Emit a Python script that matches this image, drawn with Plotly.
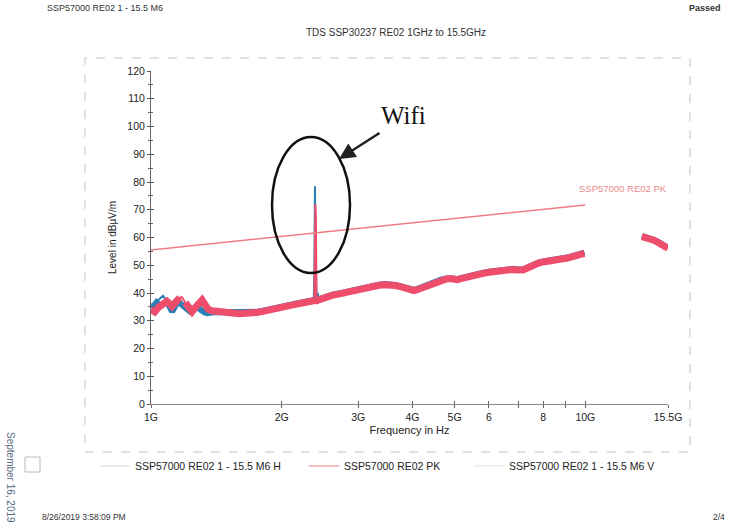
import math
import plotly.graph_objects as go

# ---------------- data ----------------
# Horizontal polarisation (blue), (frequency GHz, level dBuV/m)
H_POINTS = [
    (1.00, 34.8), (1.02, 35.8), (1.04, 37.5), (1.066, 39.0), (1.088, 37.0), (1.105, 34.5),
    (1.118, 33.3), (1.135, 35.0), (1.148, 36.9), (1.165, 36.3), (1.179, 35.5), (1.20, 34.3),
    (1.23, 33.3), (1.243, 33.6), (1.26, 34.3), (1.283, 35.0), (1.30, 34.0), (1.311, 33.4),
    (1.33, 33.0), (1.346, 32.7), (1.353, 32.8), (1.38, 33.0), (1.419, 33.1), (1.46, 33.1),
    (1.50, 33.0), (1.55, 33.0), (1.60, 32.7), (1.65, 32.9), (1.69, 32.8), (1.75, 33.2),
    (1.80, 33.5), (1.86, 34.1), (1.91, 34.4), (1.96, 34.8), (2.00, 35.2), (2.05, 35.4),
    (2.10, 35.8), (2.15, 36.1), (2.20, 36.4), (2.26, 36.6), (2.32, 37.2), (2.35, 37.0),
    (2.37, 37.4), (2.378, 50.0), (2.385, 78.5), (2.39, 60.0), (2.397, 40.0), (2.405, 37.0),
    (2.42, 37.6), (2.46, 38.0), (2.50, 38.5), (2.56, 39.0), (2.63, 39.5), (2.70, 39.8),
    (2.80, 40.4), (2.90, 40.8), (3.00, 41.2), (3.07, 41.8), (3.14, 42.4), (3.25, 42.8),
    (3.35, 43.0), (3.45, 43.2), (3.55, 43.2), (3.65, 42.9), (3.75, 42.5), (3.85, 41.8),
    (3.95, 41.3), (4.03, 41.1), (4.10, 41.4), (4.20, 42.1), (4.30, 42.7), (4.38, 43.2),
    (4.46, 43.7), (4.55, 44.3), (4.65, 44.8), (4.77, 45.2), (4.89, 45.4), (4.98, 45.2),
    (5.07, 45.0), (5.20, 45.5), (5.35, 46.1), (5.50, 46.6), (5.65, 47.0), (5.82, 47.3),
    (6.00, 47.7), (6.20, 48.1), (6.40, 48.5), (6.61, 48.7), (6.80, 48.7), (7.00, 48.5),
    (7.21, 48.6), (7.40, 49.4), (7.60, 50.4), (7.80, 51.0), (7.99, 51.4), (8.20, 51.6),
    (8.40, 51.9), (8.65, 52.1), (8.88, 52.3), (9.10, 52.8), (9.30, 53.2), (9.55, 53.7),
    (9.75, 54.1), (9.95, 54.5), (11.5, None),
    (13.5, 60.5), (13.8, 60.2), (14.1, 59.7), (14.33, 59.3), (14.6, 58.7), (14.8, 58.2),
    (15.0, 57.5), (15.25, 56.9), (15.5, 56.3),
]

# Vertical polarisation (red), (frequency GHz, level dBuV/m)
V_POINTS = [
    (1.00, 34.0), (1.02, 33.2), (1.04, 34.8), (1.066, 36.0), (1.088, 37.0), (1.105, 36.0),
    (1.118, 35.2), (1.135, 36.5), (1.148, 37.5), (1.165, 38.3), (1.179, 38.5), (1.20, 36.5),
    (1.23, 34.0), (1.243, 33.3), (1.26, 34.5), (1.283, 36.3), (1.30, 37.2), (1.311, 37.5),
    (1.33, 36.0), (1.346, 34.6), (1.353, 34.2), (1.38, 33.6), (1.419, 33.3), (1.46, 33.0),
    (1.50, 32.8), (1.55, 32.9), (1.60, 32.5), (1.65, 32.7), (1.69, 32.6), (1.75, 33.0),
    (1.80, 33.3), (1.86, 33.9), (1.91, 34.2), (1.96, 34.6), (2.00, 35.0), (2.05, 35.2),
    (2.10, 35.6), (2.15, 35.9), (2.20, 36.2), (2.26, 36.4), (2.32, 37.0), (2.35, 36.8),
    (2.37, 37.2), (2.378, 38.0), (2.385, 60.0), (2.39, 72.0), (2.397, 67.0), (2.405, 38.0),
    (2.42, 37.4), (2.46, 37.8), (2.50, 38.3), (2.56, 38.8), (2.63, 39.3), (2.70, 39.6),
    (2.80, 40.2), (2.90, 40.6), (3.00, 41.0), (3.07, 41.6), (3.14, 42.2), (3.25, 42.6),
    (3.35, 42.8), (3.45, 43.0), (3.55, 43.0), (3.65, 42.7), (3.75, 42.3), (3.85, 41.6),
    (3.95, 41.1), (4.03, 40.9), (4.10, 41.2), (4.20, 41.9), (4.30, 42.5), (4.38, 43.0),
    (4.46, 43.5), (4.55, 44.1), (4.65, 44.6), (4.77, 45.0), (4.89, 45.2), (4.98, 45.0),
    (5.07, 44.8), (5.20, 45.3), (5.35, 45.9), (5.50, 46.4), (5.65, 46.8), (5.82, 47.1),
    (6.00, 47.5), (6.20, 47.9), (6.40, 48.3), (6.61, 48.5), (6.80, 48.5), (7.00, 48.3),
    (7.21, 48.4), (7.40, 49.2), (7.60, 50.2), (7.80, 50.8), (7.99, 51.2), (8.20, 51.4),
    (8.40, 51.7), (8.65, 51.9), (8.88, 52.1), (9.10, 52.6), (9.30, 53.0), (9.55, 53.5),
    (9.75, 53.9), (9.95, 54.3), (11.5, None),
    (13.5, 60.3), (13.8, 60.0), (14.1, 59.5), (14.33, 59.1), (14.6, 58.5), (14.8, 58.0),
    (15.0, 57.3), (15.25, 56.7), (15.5, 56.1),
]

# Limit line "SSP57000 RE02 PK"
LIMIT_FREQ_GHZ = [1.0, 10.0]
LIMIT_LEVEL = [55.5, 71.7]

# Axis ticks
X_TICK_GHZ = [1, 2, 3, 4, 5, 6, 7, 8, 9, 10, 15.5]
X_TICK_TEXT = ["1G", "2G", "3G", "4G", "5G", "6", "", "8", "", "10G", "15.5G"]
Y_RANGE = [0, 120]

NAME_H = "SSP57000 RE02 1 - 15.5 M6 H"
NAME_PK = "SSP57000 RE02 PK"
NAME_V = "SSP57000 RE02 1 - 15.5 M6 V"

# ---------------- figure ----------------
FONT = "Arial, Liberation Sans, sans-serif"
RED = "#ee4d6c"
BLUE = "#2b7fb6"
LIMIT_RED = "#ef7c84"


def split_spike(points):
    """Broad-band part (thick pen) vs. narrow spike part (thin pen) of a sweep."""
    xs, ys, broad = [], [], []
    n = len(points)
    for i, (f, v) in enumerate(points):
        xs.append(f * 1e9)
        ys.append(v)
        window = [points[j][1] for j in range(i - 2, i + 3) if 0 <= j < n]
        is_spike = False
        if v is not None and len(window) == 5 and None not in window:
            is_spike = v > min(window[0], window[4]) + 4
        broad.append(None if is_spike else v)
    return xs, ys, broad


hx, hy, hb = split_spike(H_POINTS)
vx, vy, vb = split_spike(V_POINTS)
lx = [f * 1e9 for f in LIMIT_FREQ_GHZ]
tickvals = [f * 1e9 for f in X_TICK_GHZ]
xr = [math.log10(1e9), math.log10(15.5e9)]

fig = go.Figure()
fig.add_trace(go.Scatter(x=hx, y=hy, mode="lines", line=dict(color=BLUE, width=2),
                         showlegend=False))
fig.add_trace(go.Scatter(x=hx, y=hb, mode="lines", line=dict(color=BLUE, width=6),
                         showlegend=False))
fig.add_trace(go.Scatter(x=vx, y=vy, mode="lines", line=dict(color=RED, width=2),
                         showlegend=False))
fig.add_trace(go.Scatter(x=vx, y=vb, mode="lines", line=dict(color=RED, width=7),
                         showlegend=False))
fig.add_trace(go.Scatter(x=lx, y=LIMIT_LEVEL, mode="lines", line=dict(color=LIMIT_RED, width=1.5),
                         showlegend=False))
# legend entries (faint, as in the scanned printout)
fig.add_trace(go.Scatter(x=[None], y=[None], mode="lines", name=NAME_H, legend="legend",
                         line=dict(color="#d8d8d8", width=1)))
fig.add_trace(go.Scatter(x=[None], y=[None], mode="lines", name=NAME_PK, legend="legend2",
                         line=dict(color=LIMIT_RED, width=1)))
fig.add_trace(go.Scatter(x=[None], y=[None], mode="lines", name=NAME_V, legend="legend3",
                         line=dict(color="#e0e0e0", width=1)))
# overlay axes for the inner half of the cross ticks
fig.add_trace(go.Scatter(x=[None], y=[None], xaxis="x2", yaxis="y2", showlegend=False,
                         hoverinfo="skip"))

L, R, T, B = 151, 67, 71, 125
W, H = 735, 529
PW, PH = W - L - R, H - T - B


def px(xp):
    return (xp - L) / PW


def py(yp):
    return (H - B - yp) / PH


common_x = dict(type="log", range=xr, tickvals=tickvals, showgrid=False, zeroline=False)
common_y = dict(range=Y_RANGE, dtick=10, showgrid=False, zeroline=False)


def legend_at(text_left):
    return dict(orientation="h", x=px(text_left - 41), y=py(466), xanchor="left", yanchor="middle",
                font=dict(size=10.5, color="#222"), bgcolor="rgba(0,0,0,0)")


fig.update_layout(
    width=W, height=H,
    margin=dict(l=L, r=R, t=T, b=B),
    paper_bgcolor="white", plot_bgcolor="white",
    font=dict(family=FONT, color="#222", size=10),
    xaxis=dict(**common_x, ticktext=X_TICK_TEXT, ticks="outside", ticklen=3, tickcolor="#666",
               showline=True, linecolor="#8a8a8a", linewidth=1,
               tickfont=dict(size=10.5, color="#222"),
               title=dict(text="Frequency in Hz", font=dict(size=11, color="#222"), standoff=4)),
    yaxis=dict(**common_y, ticks="outside", ticklen=3, tickcolor="#555",
               showline=True, linecolor="#666", linewidth=1,
               minor=dict(dtick=5, ticks="outside", ticklen=2, tickcolor="#666"),
               tickfont=dict(size=10.5, color="#222"),
               title=dict(text="Level in dBµV/m", font=dict(size=10, color="#222"), standoff=8)),
    xaxis2=dict(**common_x, overlaying="x", showticklabels=False, ticks="inside", ticklen=3,
                tickcolor="#666", showline=False),
    yaxis2=dict(**common_y, overlaying="y", showticklabels=False, ticks="inside", ticklen=3,
                tickcolor="#555", showline=False,
                minor=dict(dtick=5, ticks="inside", ticklen=2, tickcolor="#666")),
    legend=legend_at(136),
    legend2=legend_at(345),
    legend3=legend_at(510),
    showlegend=True,
)

ann = []
ann.append(dict(text="SSP57000 RE02 1 - 15.5 M6", x=px(45), y=py(8), xanchor="left", yanchor="middle",
                font=dict(size=9, color="#333")))
ann.append(dict(text="<b>Passed</b>", x=px(723), y=py(8), xanchor="right", yanchor="middle",
                font=dict(size=9, color="#333")))
ann.append(dict(text="TDS SSP30237 RE02 1GHz to 15.5GHz", x=px(396), y=py(33), xanchor="center",
                yanchor="middle", font=dict(size=10, color="#333")))
ann.append(dict(text="8/26/2019 3:58:09 PM", x=px(40), y=py(517), xanchor="left", yanchor="middle",
                font=dict(size=8.5, color="#333")))
ann.append(dict(text="2/4", x=px(727), y=py(517), xanchor="right", yanchor="middle",
                font=dict(size=8.5, color="#333")))
ann.append(dict(text="September 16, 2019", x=px(11), y=py(477), xanchor="center", yanchor="middle",
                textangle=90, font=dict(size=10, color="#5a6a82")))
ann.append(dict(text=NAME_PK, x=math.log10(12.2e9), y=77.5, xref="x", yref="y", xanchor="center",
                yanchor="middle", font=dict(size=9.5, color="#e88a8a")))
ann.append(dict(text="Wifi", x=px(403), y=py(115), xanchor="center", yanchor="middle",
                font=dict(size=25, color="#111", family="Liberation Serif, Times New Roman, serif")))
ann.append(dict(text="", x=px(339), y=py(159), showarrow=True, ax=42, ay=-27,
                arrowhead=2, arrowsize=1.3, arrowwidth=2.5, arrowcolor="#222"))
for a in ann:
    a.setdefault("xref", "paper")
    a.setdefault("yref", "paper")
    a.setdefault("showarrow", False)
fig.update_layout(annotations=ann)

shapes = [
    dict(type="circle", xref="paper", yref="paper", x0=px(272), x1=px(350), y0=py(273), y1=py(137),
         line=dict(color="#111", width=2.5)),
    dict(type="rect", xref="paper", yref="paper", x0=px(85), x1=px(690), y0=py(452), y1=py(58),
         line=dict(color="#c4c4c4", width=1, dash="dash")),
    dict(type="rect", xref="paper", yref="paper", x0=px(25), x1=px(40), y0=py(472), y1=py(457),
         line=dict(color="#b8b8b8", width=1)),
]
fig.update_layout(shapes=shapes)

fig.write_html("out.html")
